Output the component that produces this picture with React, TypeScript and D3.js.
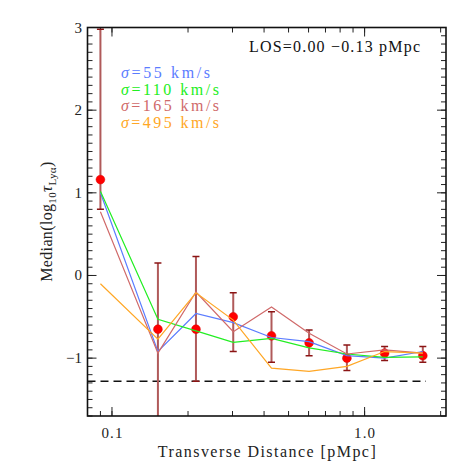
import * as d3 from "d3";

// transverse distance bins [pMpc]
const distances = [0.09, 0.152, 0.215, 0.302, 0.428, 0.603, 0.851, 1.2, 1.7];

// measured medians with error range
const medians = [1.16, -0.65, -0.65, -0.5, -0.73, -0.815, -1.0, -0.94, -0.97];
const errHigh = [2.98, 0.15, 0.23, -0.21, -0.44, -0.66, -0.84, -0.86, -0.86];
const errLow = [0.8, -2.4, -1.28, -0.92, -1.05, -0.97, -1.15, -1.03, -1.05];

// model curves for each velocity dispersion
const sigma55 = [1.0, -0.92, -0.46, -0.57, -0.75, -0.8, -0.97, -1.0, -0.92];
const sigma110 = [1.02, -0.53, -0.67, -0.81, -0.76, -0.875, -0.95, -0.99, -0.985];
const sigma165 = [0.77, -0.94, -0.2, -0.68, -0.38, -0.7, -0.95, -0.9, -0.94];
const sigma495 = [-0.1, -0.77, -0.21, -0.54, -1.12, -1.16, -1.1, -0.92, -0.94];

const seriesLabels = ["55", "110", "165", "495"];
const seriesColors = ["#5b7cff", "#22ee22", "#d06a6a", "#ffa726"];

const baseline = -1.28;
const xTickLabels = ["0.1", "1.0"];
const yTickLabels = ["3", "2", "1", "0", "\u22121"];

const FONT = "'Liberation Serif', 'DejaVu Serif', serif";

export default function App() {
  const left = 87.5, right = 446, top = 27.5, bottom = 416;

  const x = d3.scaleLog().domain([0.08, 2.1]).range([left, right]);
  const y = d3.scaleLinear().domain([-1.7, 3.0]).range([bottom, top]);

  const allSeries = [sigma55, sigma110, sigma165, sigma495];
  const line = d3
    .line<number>()
    .x((_, i) => x(distances[i]))
    .y((d) => y(d));

  // ticks
  const xMinor = x.ticks().filter((t) => t > 0.0801 && t < 2.09);
  const xMajor = [0.1, 1.0];
  const yMinor = d3.range(-17, 31).map((v) => v / 10);
  const yMajor = [3, 2, 1, 0, -1];

  const major = 9, minor = 5;

  return (
    <svg
      width={472}
      height={472}
      style={{ position: "absolute", left: 0, top: 0, background: "#fff" }}
      fontFamily={FONT}
    >
      <defs>
        <clipPath id="plotArea">
          <rect x={left} y={top} width={right - left} height={bottom - top} />
        </clipPath>
      </defs>

      {/* ticks, all four sides */}
      <g stroke="#222" strokeWidth={1}>
        {xMinor.map((t, i) => (
          <g key={"xm" + i}>
            <line x1={x(t)} x2={x(t)} y1={bottom} y2={bottom - minor} />
            <line x1={x(t)} x2={x(t)} y1={top} y2={top + minor} />
          </g>
        ))}
        {xMajor.map((t, i) => (
          <g key={"xM" + i}>
            <line x1={x(t)} x2={x(t)} y1={bottom} y2={bottom - major} />
            <line x1={x(t)} x2={x(t)} y1={top} y2={top + major} />
          </g>
        ))}
        {yMinor.map((t, i) => (
          <g key={"ym" + i}>
            <line x1={left} x2={left + minor} y1={y(t)} y2={y(t)} />
            <line x1={right} x2={right - minor} y1={y(t)} y2={y(t)} />
          </g>
        ))}
        {yMajor.map((t, i) => (
          <g key={"yM" + i}>
            <line x1={left} x2={left + major} y1={y(t)} y2={y(t)} />
            <line x1={right} x2={right - major} y1={y(t)} y2={y(t)} />
          </g>
        ))}
      </g>

      {/* tick labels */}
      <g fontSize={15} fill="#222">
        {xMajor.map((t, i) => (
          <text key={"xl" + i} x={x(t)} y={438} textAnchor="middle" textLength={21} lengthAdjust="spacing">
            {xTickLabels[i]}
          </text>
        ))}
        {yMajor.map((t, i) => (
          <text key={"yl" + i} x={82} y={y(t) + 5} textAnchor="end">
            {yTickLabels[i]}
          </text>
        ))}
      </g>

      {/* axis titles */}
      <text
        x={(left + right) / 2}
        y={457}
        textAnchor="middle"
        fontSize={16}
        fill="#222"
        textLength={218}
        lengthAdjust="spacing"
      >
        Transverse Distance [pMpc]
      </text>
      <text
        transform={`translate(52,${(top + bottom) / 2}) rotate(-90)`}
        textAnchor="middle"
        fontSize={16}
        fill="#222"
        textLength={120}
        lengthAdjust="spacing"
      >
        Median(log
        <tspan fontSize={11} dy={4}>10</tspan>
        <tspan fontStyle="italic" fontSize={17} dy={-4}>{"\u03c4"}</tspan>
        <tspan fontSize={11} dy={4}>Ly{"\u03b1"}</tspan>
        <tspan dy={-4}>)</tspan>
      </text>

      <g clipPath="url(#plotArea)">
        {/* reference level */}
        <line
          x1={x(0.08)}
          x2={x(1.75)}
          y1={y(baseline)}
          y2={y(baseline)}
          stroke="#111"
          strokeWidth={1.5}
          strokeDasharray="8,5"
        />

        {/* error bars */}
        {distances.map((d, i) => (
          <g key={"e" + i}>
            <line x1={x(d)} x2={x(d)} y1={y(errHigh[i])} y2={y(errLow[i])} stroke="#b05a5a" strokeWidth={2} />
            <line x1={x(d) - 3.5} x2={x(d) + 3.5} y1={y(errHigh[i])} y2={y(errHigh[i])} stroke="#8b1414" strokeWidth={1.5} />
            <line x1={x(d) - 3.5} x2={x(d) + 3.5} y1={y(errLow[i])} y2={y(errLow[i])} stroke="#8b1414" strokeWidth={1.5} />
          </g>
        ))}

        {/* medians */}
        {distances.map((d, i) => (
          <circle key={"p" + i} cx={x(d)} cy={y(medians[i])} r={4.4} fill="#ff0000" stroke="#e00000" strokeWidth={0.5} />
        ))}

        {/* model curves */}
        {allSeries.map((s, i) => (
          <path key={"s" + i} d={line(s) || ""} fill="none" stroke={seriesColors[i]} strokeWidth={1.2} />
        ))}
      </g>

      {/* frame */}
      <rect x={left} y={top} width={right - left} height={bottom - top} fill="none" stroke="#111" strokeWidth={1.6} />

      {/* legend */}
      <g fontSize={16}>
        {seriesLabels.map((lab, i) => (
          <text key={"l" + i} x={121} y={78 + i * 16.7} fill={seriesColors[i]} textLength={i === 0 ? 89 : 98} lengthAdjust="spacing">
            <tspan fontStyle="italic">{"\u03c3"}</tspan>={lab} km/s
          </text>
        ))}
      </g>

      <text x={249} y={52} fontSize={16} fill="#111" textLength={171} lengthAdjust="spacing">
        LOS=0.00 {"\u2212"}0.13 pMpc
      </text>
    </svg>
  );
}
